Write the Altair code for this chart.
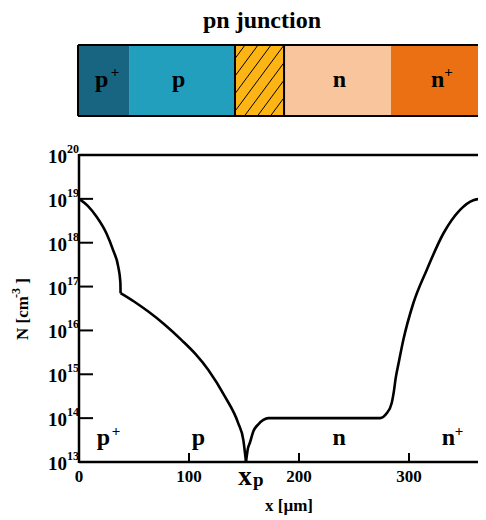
import altair as alt
import pandas as pd

# ---------------- data ----------------
TITLE = "pn junction"
X_MAX = 362.7   # visible part of the x range (the reference is cut at its right edge)

# doping profile in three pieces: x in µm, log10 of N in cm^-3
seg_a_x = [0, 8, 16, 25, 31, 35.7, 37.6, 37.8]
seg_a_log = [19.0, 18.84, 18.59, 18.21, 17.83, 17.45, 17.1, 16.85]
seg_b_x = [37.8, 50, 63, 78, 93.3, 106, 117.6, 132.7, 144.8, 149.4, 151.8]
seg_b_log = [16.85, 16.66, 16.43, 16.13, 15.78, 15.46, 15.10, 14.49, 13.88, 13.50, 13.0]
seg_c_x = [151.8, 153.5, 155.5, 158.5, 163, 167.6, 172, 176.7, 273.6, 279.7, 284.2,
           286.4, 287.8, 290.5, 294.8, 303.9, 316.1, 331.2, 346.4, 358.5, 367.5, 370]
seg_c_log = [13.0, 13.3, 13.45, 13.7, 13.86, 13.96, 14.0, 14.0, 14.0, 14.11, 14.34,
             14.64, 14.9, 15.25, 15.78, 16.62, 17.38, 18.21, 18.75, 18.97, 19.01, 19.02]

y_exps = [13, 14, 15, 16, 17, 18, 19, 20]
y_tick_exps = [13, 14, 15, 16, 17, 18, 19]
x_ticks = [100, 200, 300]
x_label_pos = [0, 100, 200, 300]
x_labels = ["0", "100", "200", "300"]
XP = 151.8

region_start = [0, 45.5, 141.8, 186.4, 283.6]
region_end = [45.5, 141.8, 186.4, 283.6, X_MAX]
region_colors = ["#176580", "#239fbe", "#fdb515", "#f8c59d", "#eb7014"]
HATCH_START, HATCH_END = 141.8, 186.4

bar_label_text = ["p", "p", "n", "n"]
bar_label_x = [20.5, 90.5, 236.8, 326]
bar_sup_x = [32.7, 336]

plot_label_text = ["p", "p", "n", "n"]
plot_label_x = [22.3, 108.6, 236.4, 335.9]
plot_sup_x = [33.6, 345.5]

# ---------------- layout ----------------
W, H = 399, 307
FONT = "Liberation Serif"
PX = W / X_MAX
BAR_TOP, BAR_BOT = -110, -39

xs = alt.Scale(domain=[0, X_MAX], nice=False, zero=False)
ys = alt.Scale(type="log", domain=[1e13, 1e20], nice=False)
one = pd.DataFrame({"k": [0]})

# curve
rows = []
for seg, (sx, sl) in enumerate([(seg_a_x, seg_a_log), (seg_b_x, seg_b_log), (seg_c_x, seg_c_log)]):
    for i, (a, b) in enumerate(zip(sx, sl)):
        rows.append({"x": a, "N": 10 ** b, "seg": seg, "i": i})
curve_df = pd.DataFrame(rows)
curve = alt.Chart(curve_df).mark_line(color="black", strokeWidth=2.6, strokeJoin="round",
                                      interpolate="monotone", clip=True).encode(
    x=alt.X("x:Q", scale=xs, axis=None),
    y=alt.Y("N:Q", scale=ys, axis=None),
    detail="seg:N",
    order="i:Q",
)

# top bar
reg_df = pd.DataFrame({"s": region_start, "e": region_end, "c": region_colors})
rects = alt.Chart(reg_df).mark_rect(strokeWidth=0).encode(
    x=alt.X("s:Q", scale=xs, axis=None), x2="e:Q",
    y=alt.value(BAR_TOP), y2=alt.value(BAR_BOT),
    color=alt.Color("c:N", scale=None),
)

# hatch lines inside depletion box (decoration)
bw = (HATCH_END - HATCH_START) * PX
bh = BAR_BOT - BAR_TOP
slope = 1.35
spacing = 13.0
hx1, hx2, hy1, hy2 = [], [], [], []
for k in range(-20, 21):
    u_top = bw - spacing * k
    c = u_top - bh / slope
    v0 = max(0.0, -c * slope)
    v1 = min(bh, (bw - c) * slope)
    if v1 - v0 > 1:
        hx1.append(HATCH_START + (c + v0 / slope) / PX)
        hx2.append(HATCH_START + (c + v1 / slope) / PX)
        hy1.append(BAR_BOT - v0)
        hy2.append(BAR_BOT - v1)
hatch_df = pd.DataFrame({"a": hx1, "b": hx2, "p1": hy1, "p2": hy2})
hatch = alt.Chart(hatch_df).mark_rule(color="black", strokeWidth=1).encode(
    x=alt.X("a:Q", scale=xs, axis=None), x2="b:Q",
    y=alt.Y("p1:Q", scale=None), y2="p2:Q",
)
hbox_df = pd.DataFrame({"s": [HATCH_START], "e": [HATCH_END]})
hbox = alt.Chart(hbox_df).mark_rect(fillOpacity=0, stroke="black", strokeWidth=2).encode(
    x=alt.X("s:Q", scale=xs, axis=None), x2="e:Q",
    y=alt.value(BAR_TOP), y2=alt.value(BAR_BOT),
)
bar_top = alt.Chart(one).mark_rule(color="black", strokeWidth=2).encode(
    x=alt.value(-1), x2=alt.value(W + 2), y=alt.value(BAR_TOP))
bar_bot = alt.Chart(one).mark_rule(color="black", strokeWidth=2).encode(
    x=alt.value(-1), x2=alt.value(W + 2), y=alt.value(BAR_BOT))
bar_left = alt.Chart(one).mark_rule(color="black", strokeWidth=2).encode(
    x=alt.value(-1), y=alt.value(BAR_TOP), y2=alt.value(BAR_BOT))

txt = dict(font=FONT, fontWeight="bold", color="black")

title = alt.Chart(one).mark_text(text=TITLE, fontSize=24, align="center",
                                 baseline="alphabetic", **txt).encode(
    x=alt.value(183), y=alt.value(-127))

bl_df = pd.DataFrame({"x": bar_label_x, "t": bar_label_text})
bar_labels = alt.Chart(bl_df).mark_text(fontSize=24, align="center", baseline="alphabetic", **txt).encode(
    x=alt.X("x:Q", scale=xs, axis=None), y=alt.value(-68), text="t:N")
bs_df = pd.DataFrame({"x": bar_sup_x, "t": ["+"] * len(bar_sup_x)})
bar_sups = alt.Chart(bs_df).mark_text(fontSize=15, align="center", baseline="middle", **txt).encode(
    x=alt.X("x:Q", scale=xs, axis=None), y=alt.value(-83), text="t:N")

# plot region labels
pl_df = pd.DataFrame({"x": plot_label_x, "t": plot_label_text})
plot_labels = alt.Chart(pl_df).mark_text(fontSize=24, align="center", baseline="alphabetic", **txt).encode(
    x=alt.X("x:Q", scale=xs, axis=None), y=alt.value(290), text="t:N")
ps_df = pd.DataFrame({"x": plot_sup_x, "t": ["+"] * len(plot_sup_x)})
plot_sups = alt.Chart(ps_df).mark_text(fontSize=15, align="center", baseline="middle", **txt).encode(
    x=alt.X("x:Q", scale=xs, axis=None), y=alt.value(276), text="t:N")

# y axis ticks and labels
yt_df = pd.DataFrame({"N": [10.0 ** e for e in y_tick_exps]})
y_ticks = alt.Chart(yt_df).mark_rule(color="black", strokeWidth=2).encode(
    x=alt.value(0), x2=alt.value(14), y=alt.Y("N:Q", scale=ys, axis=None))
yl_df = pd.DataFrame({"N": [10.0 ** e for e in y_exps], "s": [str(e) for e in y_exps]})
y_base = alt.Chart(yl_df).mark_text(text="10", fontSize=19, align="right", baseline="middle", dy=2, **txt).encode(
    x=alt.value(-12), y=alt.Y("N:Q", scale=ys, axis=None))
y_sup = alt.Chart(yl_df).mark_text(fontSize=12, align="left", baseline="middle", dy=-6, **txt).encode(
    x=alt.value(-12), y=alt.Y("N:Q", scale=ys, axis=None), text="s:N")

# x axis ticks and labels
xt_df = pd.DataFrame({"x": x_ticks})
x_tk = alt.Chart(xt_df).mark_rule(color="black", strokeWidth=2).encode(
    x=alt.X("x:Q", scale=xs, axis=None), y=alt.value(H), y2=alt.value(H - 9))
xl_df = pd.DataFrame({"x": x_label_pos, "t": x_labels})
x_lab = alt.Chart(xl_df).mark_text(fontSize=17, align="center", baseline="middle", **txt).encode(
    x=alt.X("x:Q", scale=xs, axis=None), y=alt.value(322), text="t:N")
xp_df = pd.DataFrame({"x": [XP]})
xp_x = alt.Chart(xp_df).mark_text(text="x", fontSize=27, align="center", baseline="alphabetic", dx=-1, **txt).encode(
    x=alt.X("x:Q", scale=xs, axis=None), y=alt.value(330))
xp_p = alt.Chart(xp_df).mark_text(text="p", fontSize=19, align="left", baseline="alphabetic", dx=7, **txt).encode(
    x=alt.X("x:Q", scale=xs, axis=None), y=alt.value(331))

# axis titles
x_title = alt.Chart(one).mark_text(text="x [\u00b5m]", fontSize=17, align="center", baseline="middle", **txt).encode(
    x=alt.value(210), y=alt.value(351))
y_t1 = alt.Chart(one).mark_text(text="N [cm", fontSize=17, angle=270, align="center", baseline="middle", **txt).encode(
    x=alt.value(-56), y=alt.value(163))
y_t2 = alt.Chart(one).mark_text(text="-3", fontSize=12, angle=270, align="center", baseline="middle", **txt).encode(
    x=alt.value(-63), y=alt.value(138))
y_t3 = alt.Chart(one).mark_text(text="]", fontSize=17, angle=270, align="center", baseline="middle", **txt).encode(
    x=alt.value(-56), y=alt.value(126))

# frame lines
f_top = alt.Chart(one).mark_rule(color="black", strokeWidth=2.5).encode(
    x=alt.value(0), x2=alt.value(W), y=alt.value(0))
f_left = alt.Chart(one).mark_rule(color="black", strokeWidth=2.5).encode(
    x=alt.value(0), y=alt.value(-1), y2=alt.value(H + 1))
f_bot = alt.Chart(one).mark_rule(color="black", strokeWidth=2.5).encode(
    x=alt.value(0), x2=alt.value(W), y=alt.value(H))

chart = alt.layer(
    rects, hatch, hbox, bar_top, bar_bot, bar_left, title, bar_labels, bar_sups,
    y_ticks, x_tk, f_top, f_left, f_bot, curve,
    plot_labels, plot_sups, y_base, y_sup, x_lab, xp_x, xp_p,
    x_title, y_t1, y_t2, y_t3,
).properties(
    width=W, height=H,
    padding={"left": 71, "top": 147, "right": 0, "bottom": 56},
    autosize=alt.AutoSizeParams(type="none"),
    background="white",
).configure_view(strokeWidth=0)

chart.save("out.html", embed_options={"renderer": "svg", "actions": False})
